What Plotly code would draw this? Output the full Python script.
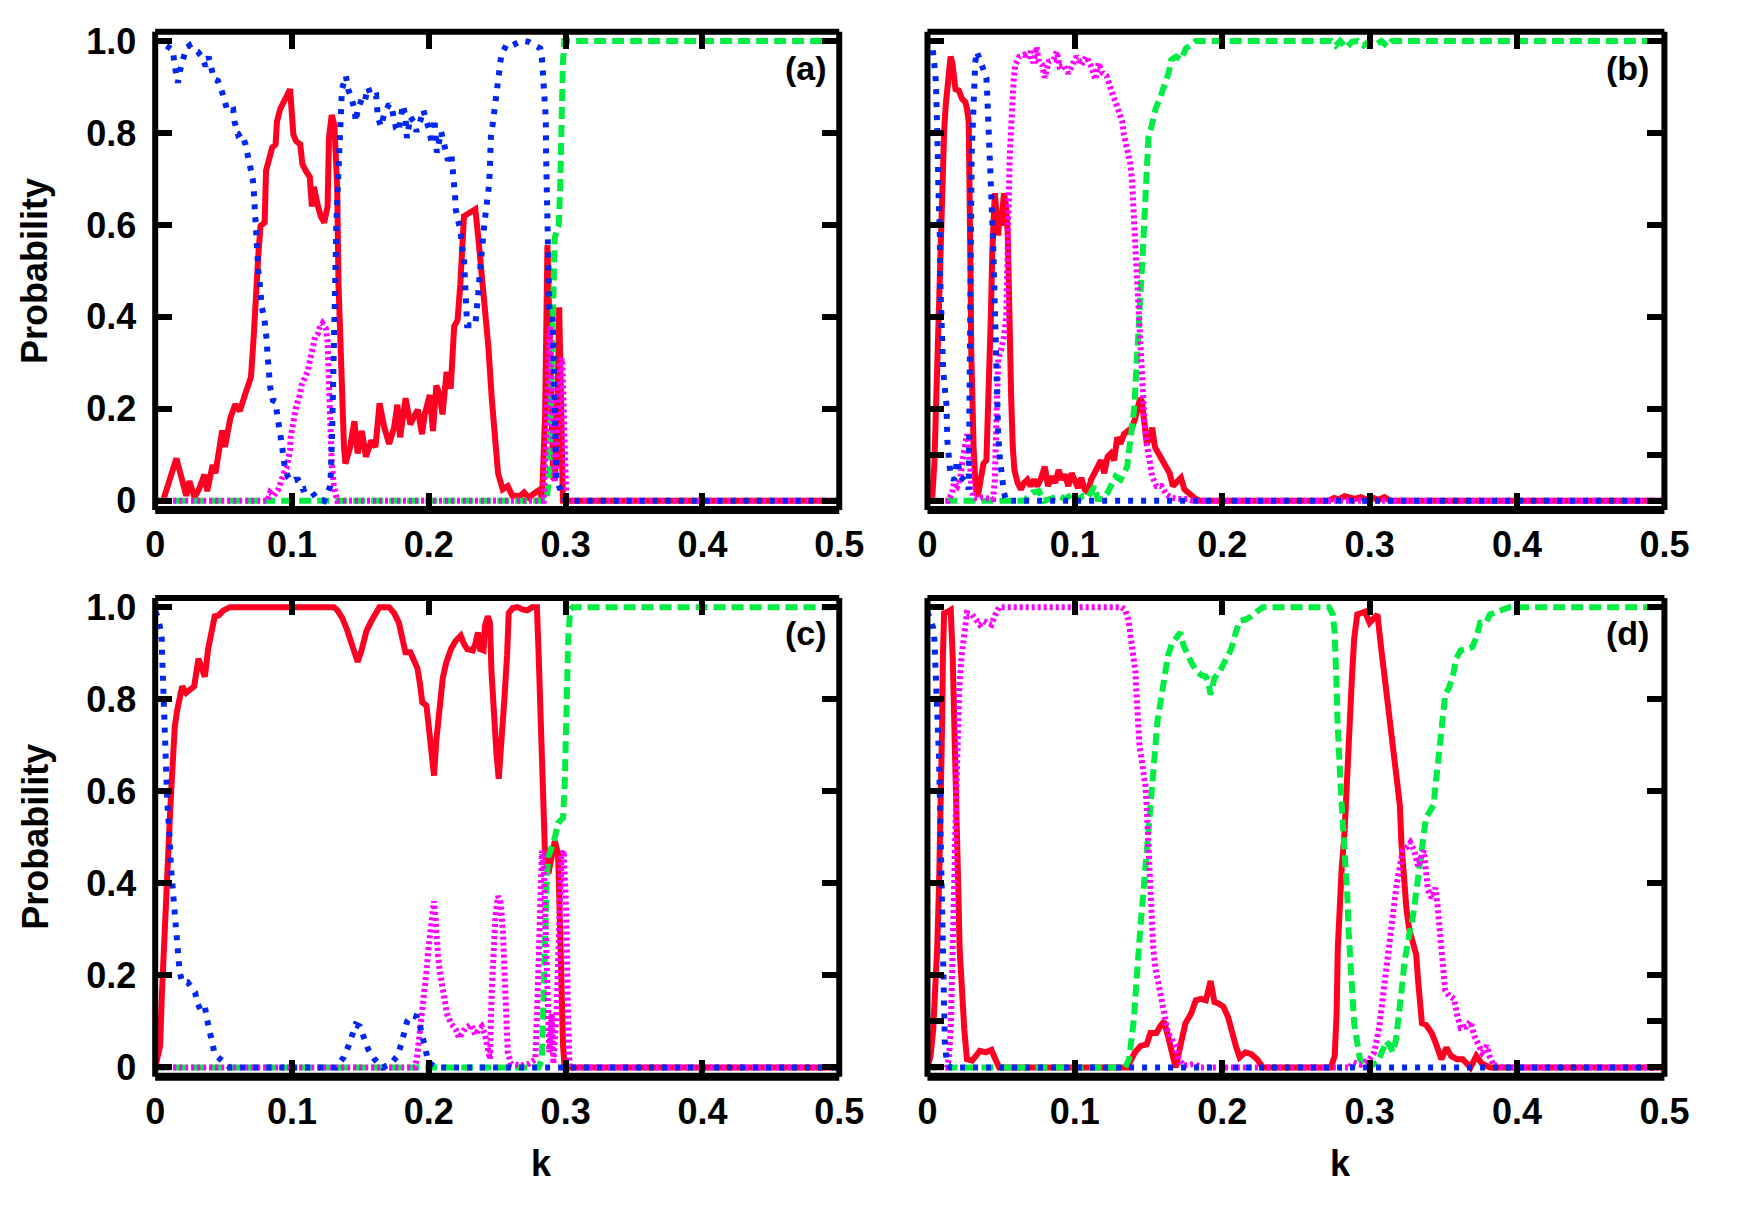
import plotly.graph_objects as go

# ---------------- data: (k, probability) pairs ----------------
A_RED = [(0,0),(0.0057,0),(0.0155,0.092),(0.0227,0.011),(0.025,0.043),(0.0287,0.008),(0.032,0.025),
 (0.036,0.057),(0.038,0.021),(0.042,0.078),(0.044,0.06),(0.049,0.153),(0.051,0.117),(0.055,0.181),
 (0.0586,0.21),(0.0618,0.195),(0.0657,0.231),(0.068,0.258),(0.070,0.269),(0.072,0.357),(0.0736,0.47),
 (0.0755,0.54),(0.077,0.598),(0.080,0.605),(0.081,0.718),(0.083,0.74),(0.0855,0.768),(0.088,0.775),
 (0.089,0.825),(0.0915,0.853),(0.094,0.867),(0.096,0.885),(0.0986,0.895),(0.101,0.796),(0.103,0.782),
 (0.106,0.775),(0.1076,0.732),(0.110,0.718),(0.113,0.704),(0.1145,0.64),(0.116,0.683),(0.119,0.64),
 (0.121,0.619),(0.1235,0.605),(0.126,0.64),(0.127,0.789),(0.129,0.839),(0.131,0.817),(0.133,0.683),
 (0.134,0.47),(0.136,0.258),(0.138,0.117),(0.139,0.081),(0.1425,0.117),(0.1456,0.173),(0.148,0.103),
 (0.151,0.152),(0.154,0.096),(0.158,0.131),(0.161,0.117),(0.164,0.212),(0.1675,0.159),(0.171,0.124),
 (0.1746,0.159),(0.177,0.209),(0.179,0.138),(0.183,0.223),(0.1865,0.166),(0.190,0.188),(0.192,0.198),
 (0.195,0.145),(0.197,0.188),(0.2007,0.23),(0.203,0.152),(0.2055,0.251),(0.208,0.23),(0.210,0.188),
 (0.213,0.28),(0.216,0.244),(0.2185,0.379),(0.221,0.393),(0.223,0.47),(0.2257,0.619),(0.229,0.626),
 (0.234,0.634),(0.236,0.577),(0.239,0.485),(0.241,0.40),(0.2435,0.336),(0.246,0.223),(0.248,0.131),
 (0.2506,0.06),(0.254,0.025),(0.2577,0.032),(0.261,0.011),(0.267,0.011),(0.2696,0.018),(0.273,0.007),
 (0.278,0.018),(0.2815,0.025),(0.2827,0.0),(0.285,0.188),(0.2867,0.556),(0.288,0.435),(0.2898,0.188),
 (0.291,0.046),(0.2933,0.081),(0.2953,0.421),(0.297,0.188),(0.298,0.0),(0.5,0.0)]

A_BLUE = [(0,1.0),(0.0036,1.0),(0.008,0.99),(0.013,0.98),(0.014,0.95),(0.015,0.927),(0.0166,0.909),
 (0.018,0.934),(0.020,0.959),(0.0226,0.984),(0.025,0.99),(0.026,0.984),(0.031,0.977),(0.034,0.966),
 (0.0368,0.945),(0.039,0.966),(0.043,0.917),(0.046,0.913),(0.049,0.888),(0.051,0.867),(0.053,0.846),
 (0.057,0.85),(0.058,0.824),(0.0606,0.796),(0.063,0.80),(0.066,0.775),(0.0677,0.75),(0.070,0.725),
 (0.0713,0.70),(0.072,0.676),(0.0724,0.648),(0.073,0.623),(0.0736,0.598),(0.0738,0.57),(0.074,0.545),
 (0.0755,0.495),(0.0765,0.47),(0.077,0.446),(0.078,0.42),(0.0796,0.40),(0.081,0.375),(0.0815,0.35),
 (0.082,0.322),(0.0824,0.297),(0.083,0.272),(0.084,0.248),(0.086,0.219),(0.088,0.216),(0.089,0.191),
 (0.0907,0.163),(0.092,0.138),(0.093,0.113),(0.094,0.088),(0.095,0.067),(0.0974,0.05),(0.0998,0.042),
 (0.102,0.046),(0.1045,0.046),(0.108,0.025),(0.1116,0.028),(0.114,0.021),(0.1176,0.007),(0.1235,0.0),
 (0.126,0.018),(0.128,0.032),(0.1292,0.131),(0.1298,0.258),(0.1303,0.329),(0.131,0.47),(0.1318,0.541),
 (0.1325,0.612),(0.1335,0.683),(0.134,0.732),(0.1345,0.789),(0.135,0.846),(0.1357,0.874),
 (0.1365,0.895),(0.1394,0.924),(0.141,0.895),(0.1437,0.874),(0.146,0.846),(0.1465,0.824),(0.148,0.85),
 (0.151,0.874),(0.153,0.867),(0.1556,0.899),(0.158,0.878),(0.1615,0.881),(0.1622,0.86),(0.1627,0.835),
 (0.165,0.814),(0.1675,0.842),(0.171,0.863),(0.173,0.853),(0.176,0.81),(0.178,0.803),(0.181,0.861),
 (0.183,0.835),(0.184,0.789),(0.1865,0.835),(0.189,0.824),(0.191,0.803),(0.1936,0.824),(0.196,0.85),
 (0.198,0.828),(0.2007,0.803),(0.202,0.775),(0.204,0.831),(0.2052,0.789),(0.2058,0.757),(0.209,0.803),
 (0.2114,0.768),(0.214,0.74),(0.2165,0.754),(0.2172,0.732),(0.2185,0.711),(0.219,0.683),(0.2193,0.658),
 (0.2197,0.633),(0.2216,0.605),(0.2233,0.584),(0.224,0.556),(0.2257,0.53),(0.226,0.506),(0.2262,0.481),
 (0.2264,0.456),(0.227,0.428),(0.2273,0.403),(0.228,0.382),(0.2316,0.382),(0.234,0.382),(0.2347,0.407),
 (0.236,0.432),(0.2363,0.456),(0.237,0.485),(0.2375,0.51),(0.238,0.534),(0.239,0.563),(0.240,0.584),
 (0.241,0.612),(0.2423,0.637),(0.2435,0.662),(0.244,0.686),(0.2445,0.715),(0.2447,0.74),(0.2449,0.768),
 (0.2454,0.793),(0.2466,0.817),(0.2477,0.842),(0.249,0.867),(0.250,0.895),(0.2506,0.92),(0.2518,0.945),
 (0.253,0.97),(0.2565,0.99),(0.259,0.987),(0.266,0.998),(0.2696,1.0),(0.273,0.998),(0.2791,0.987),
 (0.2815,0.984),(0.2827,0.962),(0.2835,0.934),(0.2838,0.909),(0.2845,0.881),(0.285,0.856),(0.2855,0.832),
 (0.2857,0.754),(0.286,0.683),(0.2862,0.598),(0.2865,0.541),(0.2867,0.47),(0.288,0.421),(0.2905,0.396),
 (0.291,0.329),(0.2912,0.258),(0.2915,0.188),(0.292,0.117),(0.2933,0.046),(0.297,0.018),(0.300,0.0),
 (0.5,0.0)]

A_MAG = [(0,0),(0.082,0),(0.084,0.018),(0.0867,0.011),(0.090,0.025),(0.0926,0.05),(0.094,0.06),
 (0.096,0.071),(0.0974,0.088),(0.0986,0.11),(0.099,0.138),(0.100,0.159),(0.1017,0.18),(0.103,0.205),
 (0.1057,0.23),(0.107,0.251),(0.109,0.265),(0.1116,0.283),(0.113,0.304),(0.1147,0.329),(0.116,0.34),
 (0.117,0.357),(0.119,0.364),(0.120,0.375),(0.1223,0.386),(0.1247,0.375),(0.126,0.347),(0.1266,0.294),
 (0.127,0.223),(0.1278,0.152),(0.129,0.081),(0.1306,0.032),(0.132,0.004),(0.133,0),(0.284,0),
 (0.2855,0.15),(0.287,0.30),(0.2885,0.38),(0.2895,0.30),(0.2905,0.15),(0.292,0.04),(0.293,0.08),
 (0.2945,0.18),(0.296,0.30),(0.2975,0.31),(0.2985,0.20),(0.2995,0.05),(0.3005,0),(0.5,0)]

A_GREEN = [(0,0),(0.286,0),(0.288,0.05),(0.289,0.20),(0.290,0.42),(0.291,0.50),(0.292,0.57),
 (0.2935,0.59),(0.295,0.60),(0.296,0.68),(0.297,0.85),(0.298,0.95),(0.299,1.0),(0.5,1.0)]

B_RED = [(0,0),(0.0031,0),(0.0047,0.081),(0.0062,0.258),(0.0075,0.40),(0.0084,0.541),(0.009,0.612),
 (0.0102,0.718),(0.0113,0.803),(0.0124,0.86),(0.0135,0.909),(0.0146,0.945),(0.0157,0.966),(0.0169,0.952),
 (0.018,0.916),(0.019,0.895),(0.0213,0.892),(0.0235,0.874),(0.0257,0.867),(0.0268,0.853),(0.028,0.824),
 (0.0286,0.718),(0.029,0.612),(0.0293,0.47),(0.0297,0.329),(0.030,0.223),(0.0313,0.117),(0.0324,0.046),
 (0.0335,0.011),(0.0346,0.018),(0.0357,0.046),(0.038,0.081),(0.040,0.088),(0.0412,0.188),(0.0424,0.329),
 (0.043,0.40),(0.044,0.541),(0.045,0.612),(0.0457,0.669),(0.0472,0.612),(0.048,0.577),(0.049,0.626),
 (0.050,0.598),(0.0519,0.669),(0.0534,0.64),(0.0545,0.577),(0.0552,0.435),(0.0559,0.329),(0.0568,0.223),
 (0.0579,0.117),(0.059,0.067),(0.0612,0.039),(0.0634,0.025),(0.0656,0.039),(0.0678,0.046),(0.070,0.032),
 (0.0723,0.046),(0.0745,0.032),(0.0767,0.046),(0.0796,0.074),(0.0818,0.032),(0.0845,0.053),(0.0867,0.039),
 (0.089,0.067),(0.0911,0.046),(0.0933,0.057),(0.0956,0.032),(0.0978,0.06),(0.100,0.039),(0.1022,0.028),
 (0.1044,0.05),(0.1067,0.025),(0.1089,0.018),(0.111,0.046),(0.1133,0.06),(0.1155,0.074),(0.1177,0.088),
 (0.120,0.06),(0.1222,0.096),(0.1244,0.103),(0.1266,0.088),(0.1288,0.138),(0.131,0.124),(0.1333,0.145),
 (0.1366,0.152),(0.1388,0.159),(0.141,0.18),(0.1428,0.205),(0.1443,0.223),(0.1455,0.216),(0.1472,0.159),
 (0.1488,0.124),(0.151,0.138),(0.1525,0.159),(0.1543,0.117),(0.1576,0.096),(0.161,0.081),(0.1643,0.06),
 (0.1665,0.032),(0.170,0.046),(0.172,0.05),(0.1743,0.025),(0.1765,0.018),(0.1787,0.014),(0.182,0.004),
 (0.185,0),(0.272,0),(0.276,0.006),(0.279,0.003),(0.283,0.010),(0.286,0.006),(0.290,0.004),(0.294,0.008),
 (0.298,0.003),(0.302,0.007),(0.306,0.002),(0.310,0.008),(0.314,0),(0.5,0)]

B_BLUE = [(0,1.0),(0.0024,1.0),(0.0035,0.984),(0.0047,0.96),(0.0053,0.93),(0.0058,0.906),(0.0062,0.877),
 (0.0064,0.853),(0.0068,0.824),(0.007,0.754),(0.0073,0.697),(0.008,0.648),(0.0084,0.577),(0.0086,0.492),
 (0.0091,0.414),(0.0095,0.336),(0.0106,0.287),(0.012,0.237),(0.0129,0.209),(0.0135,0.131),(0.0146,0.081),
 (0.0157,0.053),(0.018,0.046),(0.0202,0.088),(0.0224,0.053),(0.0246,0.046),(0.0268,0.039),(0.028,0.025),
 (0.0284,0.117),(0.0286,0.20),(0.0289,0.329),(0.0291,0.435),(0.0295,0.541),(0.0297,0.648),(0.030,0.754),
 (0.0308,0.824),(0.0313,0.902),(0.0324,0.952),(0.0335,0.977),(0.0357,0.955),(0.038,0.93),(0.040,0.92),
 (0.0405,0.888),(0.0407,0.867),(0.0411,0.839),(0.0413,0.789),(0.0418,0.761),(0.042,0.74),(0.0426,0.711),
 (0.043,0.683),(0.0435,0.633),(0.044,0.609),(0.0446,0.556),(0.045,0.506),(0.0451,0.456),(0.0453,0.40),
 (0.0457,0.35),(0.0461,0.30),(0.0468,0.244),(0.0472,0.195),(0.048,0.145),(0.049,0.096),(0.050,0.067),
 (0.0512,0.042),(0.0519,0.018),(0.0534,0),(0.5,0)]

B_MAG = [(0,0),(0.014,0),(0.0169,0.018),(0.018,0.039),(0.0202,0.032),(0.0224,0.053),(0.0235,0.081),
 (0.0246,0.103),(0.0257,0.124),(0.0268,0.145),(0.028,0.117),(0.029,0.06),(0.030,0.025),(0.0313,0.007),
 (0.0346,0.004),(0.0368,0.007),(0.0446,0.004),(0.0457,0.046),(0.0461,0.117),(0.0468,0.188),(0.0472,0.258),
 (0.048,0.308),(0.050,0.329),(0.0519,0.357),(0.0534,0.40),(0.0541,0.47),(0.0545,0.541),(0.055,0.612),
 (0.0554,0.683),(0.0559,0.754),(0.0568,0.824),(0.0574,0.874),(0.0585,0.916),(0.0596,0.948),(0.0623,0.966),
 (0.0656,0.97),(0.0678,0.962),(0.070,0.977),(0.0718,0.952),(0.074,0.987),(0.0756,0.955),(0.0778,0.948),
 (0.0796,0.92),(0.0823,0.955),(0.0856,0.959),(0.0878,0.977),(0.0896,0.945),(0.0922,0.948),(0.0956,0.93),
 (0.0989,0.952),(0.1011,0.966),(0.1044,0.948),(0.1078,0.966),(0.111,0.945),(0.114,0.916),(0.1162,0.952),
 (0.1188,0.93),(0.1215,0.924),(0.1233,0.902),(0.1255,0.885),(0.1277,0.867),(0.1304,0.846),(0.1322,0.824),
 (0.1333,0.796),(0.1348,0.775),(0.1366,0.754),(0.1377,0.732),(0.1388,0.697),(0.1393,0.662),(0.1401,0.626),
 (0.141,0.584),(0.1417,0.541),(0.1424,0.492),(0.1432,0.442),(0.1439,0.40),(0.1446,0.357),(0.145,0.315),
 (0.1455,0.265),(0.1464,0.216),(0.1472,0.173),(0.1488,0.124),(0.1503,0.088),(0.1525,0.053),(0.1554,0.032),
 (0.1588,0.032),(0.1621,0.014),(0.1654,0.007),(0.170,0.004),(0.1765,0.004),(0.180,0),(0.5,0)]

B_GREEN = [(0,0),(0.066,0),(0.0678,0.007),(0.0712,0.018),(0.0756,0.021),(0.0789,0),(0.0834,0.004),
 (0.089,0.011),(0.0933,0.004),(0.0978,0.014),(0.1011,0),(0.1055,0.011),(0.1089,0.007),(0.111,0.018),
 (0.1133,0.032),(0.1155,0.004),(0.1188,0.004),(0.1222,0.018),(0.1255,0.039),(0.1277,0.053),(0.131,0.046),
 (0.1333,0.06),(0.1355,0.074),(0.1366,0.103),(0.1377,0.131),(0.1388,0.152),(0.140,0.18),(0.1406,0.209),
 (0.141,0.244),(0.1417,0.294),(0.1421,0.329),(0.1428,0.364),(0.1437,0.40),(0.1443,0.435),(0.145,0.47),
 (0.1455,0.506),(0.1461,0.541),(0.1466,0.577),(0.147,0.612),(0.1472,0.648),(0.1477,0.683),(0.1483,0.718),
 (0.149,0.754),(0.1499,0.789),(0.1517,0.81),(0.1532,0.832),(0.1548,0.853),(0.1576,0.874),(0.1599,0.895),
 (0.1614,0.909),(0.1636,0.93),(0.1654,0.959),(0.1687,0.966),(0.172,0.959),(0.1754,0.984),(0.1787,0.991),
 (0.182,1.0),(0.274,1.0),(0.277,0.99),(0.280,1.0),(0.284,0.985),(0.288,0.998),(0.292,1.0),(0.296,0.99),
 (0.300,1.0),(0.304,0.992),(0.308,1.0),(0.312,0.988),(0.315,1.0),(0.5,1.0)]

C_RED = [(0,0),(0.0017,0.018),(0.0036,0.047),(0.0048,0.153),(0.0059,0.238),(0.0071,0.33),(0.0083,0.40),
 (0.0095,0.471),(0.0107,0.542),(0.0119,0.612),(0.013,0.683),(0.0143,0.74),(0.016,0.775),(0.0178,0.81),
 (0.0197,0.828),(0.0226,0.814),(0.0261,0.821),(0.0285,0.828),(0.0316,0.888),(0.034,0.867),(0.0363,0.849),
 (0.0387,0.909),(0.0416,0.959),(0.0435,0.98),(0.0463,0.982),(0.0499,0.993),(0.0546,1.0),(0.1306,1.0),
 (0.133,0.994),(0.1366,0.977),(0.1401,0.952),(0.1437,0.92),(0.148,0.881),(0.1508,0.906),(0.1544,0.948),
 (0.158,0.97),(0.1611,0.986),(0.1639,1.0),(0.171,1.0),(0.1746,0.987),(0.1781,0.966),(0.1805,0.938),
 (0.1829,0.902),(0.1865,0.902),(0.1888,0.888),(0.1917,0.867),(0.1936,0.832),(0.1952,0.793),(0.1983,0.786),
 (0.2007,0.726),(0.2024,0.669),(0.2038,0.634),(0.2055,0.711),(0.2078,0.789),(0.2102,0.846),(0.2126,0.878),
 (0.2162,0.909),(0.2197,0.927),(0.2233,0.938),(0.2257,0.92),(0.228,0.909),(0.2321,0.906),(0.234,0.92),
 (0.2359,0.945),(0.2375,0.909),(0.240,0.906),(0.241,0.959),(0.2431,0.98),(0.2447,0.966),(0.2458,0.86),
 (0.2477,0.754),(0.2494,0.683),(0.2511,0.627),(0.253,0.697),(0.2553,0.803),(0.2572,0.895),(0.2584,0.987),
 (0.2613,0.998),(0.2648,1.0),(0.2684,0.995),(0.2719,0.993),(0.2755,1.0),(0.279,1.0),(0.2803,0.895),
 (0.2815,0.754),(0.2827,0.612),(0.2838,0.506),(0.285,0.457),(0.2874,0.421),(0.2898,0.457),(0.2921,0.492),
 (0.2945,0.464),(0.2952,0.33),(0.2969,0.188),(0.2981,0.047),(0.2993,0),(0.5,0)]

C_BLUE = [(0,0.99),(0.0017,0.98),(0.0036,0.955),(0.0048,0.93),(0.005,0.902),(0.0052,0.877),(0.0054,0.853),
 (0.0056,0.825),(0.006,0.775),(0.0067,0.747),(0.0071,0.697),(0.0076,0.644),(0.0083,0.62),(0.009,0.57),
 (0.010,0.542),(0.0102,0.517),(0.0107,0.492),(0.0114,0.439),(0.0121,0.414),(0.0126,0.39),(0.013,0.361),
 (0.0138,0.337),(0.0143,0.312),(0.015,0.287),(0.0154,0.259),(0.0166,0.234),(0.0178,0.209),(0.0197,0.185),
 (0.0238,0.185),(0.0292,0.163),(0.0309,0.139),(0.0333,0.124),(0.0363,0.132),(0.038,0.103),(0.0399,0.078),
 (0.0416,0.054),(0.0435,0.029),(0.0487,0.015),(0.0546,0),(0.1318,0),(0.1378,0.022),(0.1413,0.047),
 (0.1442,0.071),(0.1466,0.093),(0.1496,0.089),(0.1532,0.064),(0.1556,0.04),(0.1603,0.018),(0.1663,0),
 (0.1722,0.008),(0.177,0.025),(0.1798,0.05),(0.1822,0.075),(0.1841,0.10),(0.1876,0.114),(0.1912,0.11),
 (0.1936,0.089),(0.1964,0.061),(0.1979,0.036),(0.1995,0.011),(0.2055,0),(0.5,0)]

C_MAG = [(0,0),(0.190,0),(0.1912,0.018),(0.1924,0.047),(0.1931,0.075),(0.194,0.096),(0.1948,0.124),
 (0.196,0.153),(0.1971,0.181),(0.1983,0.209),(0.1995,0.252),(0.2007,0.28),(0.2019,0.308),(0.2031,0.344),
 (0.2038,0.361),(0.2048,0.33),(0.2055,0.287),(0.2067,0.245),(0.2078,0.213),(0.2095,0.181),(0.2114,0.146),
 (0.2133,0.117),(0.2162,0.096),(0.2197,0.082),(0.2221,0.064),(0.2245,0.078),(0.2268,0.086),(0.2311,0.093),
 (0.234,0.071),(0.2364,0.082),(0.2387,0.089),(0.2411,0.071),(0.2447,0.018),(0.2458,0.153),(0.247,0.259),
 (0.2487,0.33),(0.2506,0.372),(0.2525,0.358),(0.2542,0.294),(0.2553,0.188),(0.2565,0.096),(0.2577,0.033),
 (0.2601,0.008),(0.2672,0.004),(0.2732,0.008),(0.2779,0.018),(0.2791,0.117),(0.2803,0.259),(0.2815,0.40),
 (0.2827,0.471),(0.2843,0.414),(0.2857,0.259),(0.2867,0.117),(0.2881,0.033),(0.2898,0.117),(0.291,0.008),
 (0.2933,0.117),(0.2952,0.33),(0.2969,0.457),(0.2986,0.471),(0.3005,0.33),(0.3017,0.117),(0.3029,0),
 (0.5,0)]

C_GREEN = [(0,0),(0.2803,0),(0.2827,0.018),(0.2838,0.153),(0.2845,0.259),(0.285,0.365),(0.2862,0.414),
 (0.2874,0.457),(0.2898,0.478),(0.2921,0.499),(0.2945,0.531),(0.2981,0.542),(0.2993,0.612),(0.300,0.719),
 (0.301,0.825),(0.3019,0.93),(0.3033,0.994),(0.3052,1.0),(0.5,1.0)]

D_RED = [(0,0),(0.0021,0.025),(0.0039,0.082),(0.0053,0.153),(0.0066,0.259),(0.0079,0.40),(0.0092,0.577),
 (0.010,0.754),(0.0105,0.895),(0.0113,0.987),(0.0137,0.99),(0.0158,0.994),(0.0171,0.895),(0.0179,0.754),
 (0.0189,0.612),(0.020,0.471),(0.0211,0.365),(0.0218,0.259),(0.0232,0.153),(0.025,0.082),(0.0268,0.018),
 (0.0303,0.015),(0.0329,0.025),(0.0355,0.036),(0.0395,0.033),(0.0434,0.038),(0.0461,0.018),(0.0487,0),
 (0.1355,0),(0.1382,0.018),(0.1408,0.033),(0.1447,0.047),(0.1487,0.05),(0.1513,0.075),(0.1553,0.075),
 (0.1579,0.089),(0.1605,0.10),(0.1632,0.068),(0.1658,0.033),(0.1684,0),(0.1716,0.047),(0.175,0.096),
 (0.1789,0.117),(0.1821,0.146),(0.1855,0.149),(0.1889,0.146),(0.1921,0.188),(0.1947,0.142),(0.1974,0.139),
 (0.2008,0.132),(0.2039,0.11),(0.2066,0.075),(0.2092,0.047),(0.2118,0.022),(0.2158,0.033),(0.2197,0.029),
 (0.2237,0.018),(0.2276,0),(0.2737,0),(0.2763,0.025),(0.2776,0.117),(0.2784,0.259),(0.2795,0.365),
 (0.2811,0.436),(0.2829,0.506),(0.2842,0.577),(0.2855,0.683),(0.2868,0.768),(0.2882,0.86),(0.2895,0.931),
 (0.2916,0.984),(0.2947,0.987),(0.2968,0.99),(0.300,0.966),(0.3026,0.977),(0.3053,0.984),(0.3079,0.909),
 (0.3105,0.839),(0.3132,0.775),(0.3158,0.711),(0.3184,0.634),(0.3205,0.57),(0.3216,0.485),(0.3232,0.40),
 (0.325,0.344),(0.3268,0.301),(0.3289,0.273),(0.3316,0.245),(0.3329,0.188),(0.3342,0.139),(0.3355,0.096),
 (0.3382,0.093),(0.3421,0.075),(0.3447,0.054),(0.3474,0.033),(0.3487,0.018),(0.3521,0.043),(0.3553,0.025),
 (0.3592,0.018),(0.3632,0.018),(0.3684,0),(0.3724,0.025),(0.3763,0.008),(0.3816,0),(0.5,0)]

D_BLUE = [(0,0.99),(0.0013,0.977),(0.0039,0.955),(0.0047,0.93),(0.0051,0.902),(0.0054,0.877),(0.0058,0.849),
 (0.0061,0.825),(0.0066,0.775),(0.0074,0.726),(0.0079,0.669),(0.0084,0.591),(0.0089,0.542),(0.0092,0.485),
 (0.0097,0.414),(0.010,0.337),(0.0105,0.259),(0.0111,0.181),(0.0113,0.103),(0.0118,0.054),(0.0132,0.008),
 (0.0158,0),(0.5,0)]

D_MAG = [(0,0),(0.013,0),(0.0145,0.018),(0.0158,0.082),(0.0166,0.188),(0.0171,0.294),(0.0179,0.40),
 (0.0189,0.506),(0.0197,0.612),(0.0205,0.719),(0.0216,0.825),(0.0232,0.895),(0.025,0.952),(0.0268,0.987),
 (0.0303,0.984),(0.0329,0.97),(0.0355,0.962),(0.0382,0.97),(0.0408,0.966),(0.0434,0.962),(0.0461,0.984),
 (0.0487,1.0),(0.1316,1.0),(0.1342,0.994),(0.1363,0.973),(0.1376,0.945),(0.1389,0.917),(0.140,0.888),
 (0.1411,0.86),(0.1416,0.825),(0.1421,0.782),(0.1429,0.74),(0.1439,0.697),(0.1453,0.669),(0.1466,0.641),
 (0.1479,0.612),(0.1487,0.57),(0.1492,0.528),(0.150,0.471),(0.1505,0.414),(0.1513,0.358),(0.1521,0.308),
 (0.1532,0.259),(0.1547,0.216),(0.1566,0.181),(0.1584,0.146),(0.1605,0.11),(0.1632,0.075),(0.1658,0.061),
 (0.1684,0.047),(0.1705,0.018),(0.1737,0.004),(0.1816,0.008),(0.185,0),(0.2868,0),(0.2882,0.011),
 (0.294,0.006),(0.300,0.018),(0.3032,0.033),(0.3053,0.061),(0.3066,0.089),(0.3079,0.124),(0.3092,0.16),
 (0.3105,0.195),(0.3118,0.238),(0.3132,0.273),(0.3145,0.308),(0.3158,0.337),(0.3171,0.372),(0.3184,0.40),
 (0.3205,0.436),(0.3224,0.471),(0.325,0.478),(0.3276,0.489),(0.3303,0.471),(0.3329,0.436),(0.335,0.457),
 (0.3368,0.471),(0.3382,0.429),(0.3395,0.386),(0.3421,0.368),(0.3447,0.39),(0.3461,0.351),(0.3474,0.308),
 (0.3487,0.266),(0.350,0.216),(0.3513,0.167),(0.3539,0.156),(0.3574,0.149),(0.3592,0.117),(0.3618,0.086),
 (0.3658,0.089),(0.3684,0.10),(0.3711,0.068),(0.3737,0.047),(0.3763,0.033),(0.3795,0.047),(0.3816,0.022),
 (0.3842,0.004),(0.3882,0.004),(0.390,0),(0.5,0)]

D_GREEN = [(0,0),(0.1342,0),(0.1368,0.018),(0.1389,0.061),(0.140,0.103),(0.1411,0.153),(0.1421,0.209),
 (0.1434,0.259),(0.1447,0.315),(0.1461,0.365),(0.1474,0.414),(0.1487,0.471),(0.150,0.528),(0.1513,0.577),
 (0.1521,0.627),(0.1534,0.669),(0.1547,0.719),(0.1561,0.754),(0.1579,0.789),(0.1597,0.825),(0.1613,0.86),
 (0.1632,0.895),(0.1658,0.92),(0.1684,0.934),(0.1716,0.945),(0.1737,0.917),(0.1763,0.895),(0.1789,0.881),
 (0.1821,0.863),(0.1855,0.853),(0.1889,0.849),(0.1908,0.832),(0.1921,0.81),(0.1947,0.846),(0.1987,0.863),
 (0.2026,0.885),(0.2061,0.909),(0.2092,0.945),(0.2118,0.97),(0.2158,0.973),(0.2197,0.98),(0.2237,0.991),
 (0.2276,1.0),(0.2724,1.0),(0.275,0.984),(0.2763,0.945),(0.2771,0.895),(0.2776,0.825),(0.2782,0.754),
 (0.2789,0.683),(0.2803,0.612),(0.2816,0.542),(0.2829,0.485),(0.2842,0.436),(0.285,0.365),(0.2858,0.294),
 (0.2868,0.224),(0.2882,0.153),(0.2895,0.096),(0.2916,0.054),(0.2934,0.018),(0.2961,0.008),(0.2987,0.015),
 (0.3013,0.004),(0.3053,0.011),(0.3092,0.04),(0.3113,0.057),(0.3137,0.047),(0.3158,0.033),(0.3179,0.061),
 (0.3197,0.103),(0.3211,0.146),(0.3224,0.188),(0.3237,0.231),(0.3255,0.273),(0.3276,0.301),(0.3295,0.33),
 (0.3311,0.365),(0.3324,0.40),(0.3337,0.436),(0.3355,0.471),(0.3368,0.506),(0.3382,0.542),(0.3408,0.556),
 (0.3434,0.57),(0.3447,0.612),(0.3461,0.655),(0.3474,0.697),(0.3487,0.74),(0.350,0.775),(0.3513,0.81),
 (0.3539,0.825),(0.3566,0.853),(0.3587,0.888),(0.3618,0.906),(0.3658,0.909),(0.3697,0.913),(0.3724,0.934),
 (0.375,0.966),(0.3789,0.966),(0.3816,0.984),(0.3842,0.987),(0.3882,0.991),(0.3921,0.994),(0.3947,1.0),
 (0.5,1.0)]

X_TICKS = [0, 0.1, 0.2, 0.3, 0.4, 0.5]
X_TICK_LABELS = ["0", "0.1", "0.2", "0.3", "0.4", "0.5"]
Y_TICKS = [0, 0.2, 0.4, 0.6, 0.8, 1.0]
Y_TICK_LABELS = ["0", "0.2", "0.4", "0.6", "0.8", "1.0"]
Y_TICKS_RIGHT = [0, 0.1, 0.2, 0.4, 0.6, 0.8, 1.0]
PANEL_LABELS = ["(a)", "(b)", "(c)", "(d)"]

# ---------------- figure ----------------
W, H = 1751, 1226
RED, BLUE, MAG, GREEN = "#ff0022", "#0028f0", "#ff00ff", "#00ee44"
FONT = "Liberation Sans, Arial, sans-serif"

XDOM = {1: [140 / W, 838 / W], 2: [928 / W, 1680 / W], 3: [140 / W, 838 / W], 4: [928 / W, 1680 / W]}
TOPY = [1 - 500 / H, 1 - 13 / H]
BOTY = [1 - 1077 / H, 1 - 589.5 / H]
YDOM = {1: TOPY, 2: TOPY, 3: BOTY, 4: BOTY}

panels = [
    (A_RED, A_BLUE, A_MAG, A_GREEN),
    (B_RED, B_BLUE, B_MAG, B_GREEN),
    (C_RED, C_BLUE, C_MAG, C_GREEN),
    (D_RED, D_BLUE, D_MAG, D_GREEN),
]

fig = go.Figure()
for i, (red, blue, mag, green) in enumerate(panels, start=1):
    sfx = "" if i == 1 else str(i)
    for data, color, width, dash in [(red, RED, 6, "solid"), (green, GREEN, 6, "12px,6px"),
                                     (mag, MAG, 6, "3px,3px"), (blue, BLUE, 6, "5px,8px")]:
        ks = [d[0] for d in data]
        ps = [d[1] for d in data]
        fig.add_trace(go.Scatter(x=ks, y=ps, mode="lines",
                                 line=dict(color=color, width=width, dash=dash),
                                 xaxis="x" + sfx, yaxis="y" + sfx,
                                 showlegend=False, hoverinfo="skip"))

layout = dict(width=W, height=H, margin=dict(l=0, r=0, t=0, b=0),
              paper_bgcolor="white", plot_bgcolor="white",
              font=dict(family=FONT, color="black"), showlegend=False)

tickfont = dict(family=FONT, size=36, color="black", weight="bold")
shapes = []
for i in range(1, 5):
    sfx = "" if i == 1 else str(i)
    left = i in (1, 3)
    layout["xaxis" + sfx] = dict(
        domain=XDOM[i], range=[0, 0.5], anchor="y" + sfx,
        tickvals=X_TICKS, ticktext=X_TICK_LABELS, tickfont=tickfont,
        ticks="inside", ticklen=17, tickwidth=6, tickcolor="black",
        mirror="ticks", showline=False, showgrid=False, zeroline=False,
        ticklabelstandoff=10, fixedrange=True)
    layout["yaxis" + sfx] = dict(
        domain=YDOM[i], range=[-0.02, 1.02], anchor="x" + sfx,
        tickvals=Y_TICKS if left else Y_TICKS_RIGHT,
        ticktext=Y_TICK_LABELS if left else None,
        showticklabels=left, tickfont=tickfont,
        ticks="inside", ticklen=17, tickwidth=6, tickcolor="black",
        mirror="ticks", showline=False, showgrid=False, zeroline=False,
        ticklabelstandoff=18, fixedrange=True)
    xr, yr = "x" + sfx + " domain", "y" + sfx + " domain"
    for (x0, y0, x1, y1, lw) in [(0, 0, 1, 0, 8), (0, 1, 1, 1, 6), (0, 0, 0, 1, 6), (1, 0, 1, 1, 6)]:
        shapes.append(dict(type="line", xref=xr, yref=yr, x0=x0, y0=y0, x1=x1, y1=y1,
                           line=dict(color="black", width=lw), layer="above"))
layout["shapes"] = shapes

ann = []
lab_font = dict(family=FONT, size=34, color="black", weight="bold")
for i, (px, py) in enumerate([(828, 50), (1666, 50), (828, 625), (1666, 625)]):
    ann.append(dict(text=PANEL_LABELS[i], xref="paper", yref="paper", x=px / W, y=1 - py / H,
                    xanchor="right", yanchor="middle", showarrow=False, font=lab_font))
axis_font = dict(family=FONT, size=36, color="black", weight="bold")
for py in (257, 833):
    ann.append(dict(text="Probability", xref="paper", yref="paper", x=17 / W, y=1 - py / H,
                    xanchor="center", yanchor="middle", textangle=-90, showarrow=False, font=axis_font))
for px in (534, 1349):
    ann.append(dict(text="k", xref="paper", yref="paper", x=px / W, y=1 - 1165 / H,
                    xanchor="center", yanchor="middle", showarrow=False, font=axis_font))
layout["annotations"] = ann

fig.update_layout(**layout)
fig.write_html("out.html")
